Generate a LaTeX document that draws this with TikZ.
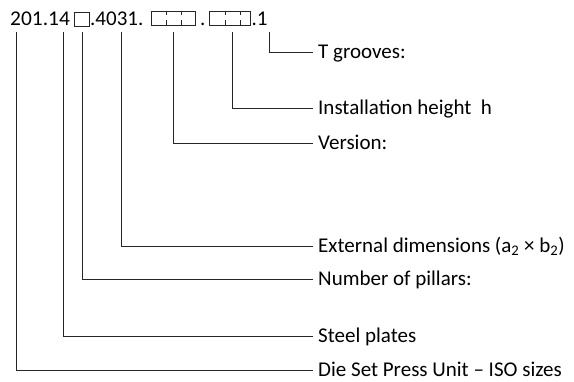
\documentclass[tikz,border=0pt]{standalone}
\usepackage{fontspec}
\setmainfont{Carlito}
\newfontfamily\hdrfont[Numbers={Monospaced,Lining}]{Carlito}
\newfontfamily\hdrwide[Numbers={Monospaced,Lining},FakeStretch=1.02]{Carlito}
\begin{document}
\begin{tikzpicture}[x=1pt,y=-1pt,
  txt/.style={inner sep=0pt,anchor=base west,font=\hdrfont\fontsize{21}{25}\selectfont},
  lbl/.style={inner xsep=5pt,inner ysep=0pt,anchor=west,text height=13.5pt,text depth=0pt,font=\fontsize{21}{25}\selectfont},
  lead/.style={line width=0.7pt,draw=black!85},
  cell/.style={line width=0.6pt,draw=black!85},
  divider/.style={line width=0.6pt,draw=black!85,dash pattern=on 4pt off 5pt on 5pt}]
\useasboundingbox (0,0) rectangle (574,382);
% header
\node[txt,font=\hdrwide\fontsize{21}{25}\selectfont] (t1) at (10,26) {201.14};
\node[cell,minimum width=15pt,minimum height=14pt,inner sep=0pt] (sq) at (81.5,19) {};
\node[txt] (t2) at (90,26) {.4031.};
\node[cell,minimum width=44pt,minimum height=14pt,inner sep=0pt] (b1) at (173.5,18.5) {};
\draw[divider] (166,11.5) -- (166,25.5);
\draw[divider] (181,11.5) -- (181,25.5);
\node[txt] (t3) at (200,26) {.};
\node[cell,minimum width=41pt,minimum height=14pt,inner sep=0pt] (b2) at (229.5,18.5) {};
\draw[divider] (225,11.5) -- (225,25.5);
\draw[divider] (240,11.5) -- (240,25.5);
\node[txt] (t4) at (251.5,26) {.1};
% labels
\node[lbl] (l1) at (313,52) {T grooves:};
\node[lbl] (l2) at (313,108) {Installation height\ \ h};
\node[lbl] (l3) at (313,143) {Version:};
\node[lbl] (l4) at (313,246) {External dimensions (a\textsubscript{2} × b\textsubscript{2})};
\node[lbl] (l5) at (313,279) {Number of pillars:};
\node[lbl] (l6) at (313,336) {Steel plates};
\node[lbl] (l7) at (313,370) {Die Set Press Unit – ISO sizes};
% leader tops
\coordinate (c1) at (16,32);
\coordinate (c2) at (63,32);
\coordinate (c3) at (82,32);
\coordinate (c4) at (121,32);
\coordinate (c5) at (173,32);
\coordinate (c6) at (232,32);
\coordinate (c7) at (269,32);
\draw[lead] (c7) |- (l1.west);
\draw[lead] (c6) |- (l2.west);
\draw[lead] (c5) |- (l3.west);
\draw[lead] (c4) |- (l4.west);
\draw[lead] (c3) |- (l5.west);
\draw[lead] (c2) |- (l6.west);
\draw[lead] (c1) |- (l7.west);
\end{tikzpicture}
\end{document}
